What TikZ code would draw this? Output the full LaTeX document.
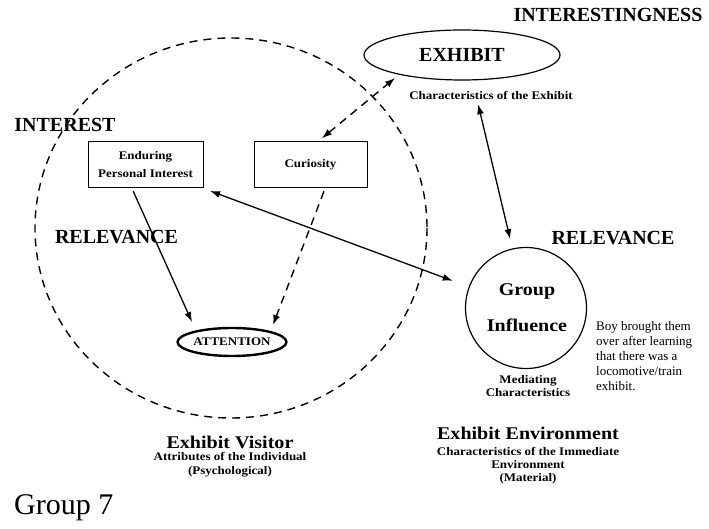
\documentclass[tikz,border=0pt]{standalone}
\usepackage{fontspec}
\setmainfont{Liberation Serif}
\newfontfamily\wideserif[FakeStretch=1.12]{Liberation Serif}
\usetikzlibrary{arrows.meta,shapes.geometric}
\begin{document}
\begin{tikzpicture}[x=1pt,y=-1pt,
  head/.style={font=\bfseries\fontsize{20}{22}\selectfont, inner sep=0pt},
  widehead/.style={font=\wideserif\bfseries\fontsize{17.9}{20}\selectfont, inner sep=0pt},
  small/.style={font=\wideserif\bfseries\fontsize{11.6}{13.5}\selectfont, inner sep=0pt, align=center},
  note/.style={font=\fontsize{13}{15}\selectfont, inner sep=0pt, align=left},
  box/.style={draw, line width=1pt, minimum width=115pt, minimum height=46pt,
    font=\wideserif\bfseries\fontsize{11.6}{18}\selectfont, align=center, inner sep=0pt},
  dashline/.style={dash pattern=on 8pt off 6pt, line width=1.4pt},
  solidline/.style={line width=1.3pt},
  tip/.style={-{Latex[length=10pt,width=7pt]}},
  twotip/.style={{Latex[length=10pt,width=7pt]}-{Latex[length=10pt,width=7pt]}}
]
\useasboundingbox (0,0) rectangle (709,529);

% visitor's sphere
\draw[dashline] (231,228) ellipse [x radius=196, y radius=190];

% nodes
\node[box] (endur) at (145.5,165) {Enduring\\Personal Interest};
\node[box, minimum width=113pt] (curio) at (310.5,165) {Curiosity};
\node[draw, ellipse, line width=2.4pt, minimum width=104pt, minimum height=28pt,
      inner sep=0pt, font=\wideserif\bfseries\fontsize{11.6}{14}\selectfont] (att) at (232,342) {ATTENTION};
\node[draw, ellipse, line width=1.2pt, minimum width=196pt, minimum height=50pt,
      inner sep=0pt, font=\bfseries\fontsize{20}{22}\selectfont] (exh) at (462,55) {EXHIBIT};
\node[draw, circle, line width=1.2pt, minimum size=121pt] (gi) at (526,308) {};
\node[widehead] (giA) at (527,291) {Group};
\node[widehead] (giB) at (527,325) {Influence};

% labels
\node[head] (interestingness) at (608,15) {INTERESTINGNESS};
\node[small] (exlab) at (491,95) {Characteristics of the Exhibit};
\node[head] (relR) at (613,238) {RELEVANCE};
\node[head] (relL) at (116.5,237) {RELEVANCE};
\node[head] (interest) at (65,125) {INTEREST};
\node[small, font=\wideserif\bfseries\fontsize{11.6}{13}\selectfont] (med) at (528,386) {Mediating\\Characteristics};
\node[note, anchor=north west] (boy) at (596,321)
  {Boy brought them\\over after learning\\that there was a\\locomotive/train\\exhibit.};
\node[widehead] (envtitle) at (528,433) {Exhibit Environment};
\node[small, font=\wideserif\bfseries\fontsize{11.6}{13}\selectfont] (envsub) at (528,465.5) {Characteristics of the Immediate\\Environment\\(Material)};
\node[widehead] (vistitle) at (230,442) {Exhibit Visitor};
\node[small] (vissub) at (230,464.5) {Attributes of the Individual\\(Psychological)};
\node[font=\fontsize{30}{32}\selectfont, inner sep=0pt, anchor=west] (grp) at (14,508) {Group 7};

% connectors
\draw[solidline, tip, shorten <=3pt] ([xshift=-13.5pt]endur.south) -- ([shift={(-40,-20)}]att.center);
\draw[dashline, tip, shorten <=3pt] ([xshift=14.5pt]curio.south) -- ([shift={(41,-17)}]att.center);
\draw[dashline, twotip, shorten <=5pt] ([xshift=7.5pt]curio.north) -- ([shift={(-67,23)}]exh.center);
\draw[solidline, twotip, shorten <=7pt, shorten >=17pt] (endur.south east) -- (gi);
\draw[solidline, twotip, shorten <=5pt, shorten >=8pt] ([xshift=-14pt]exlab.south) -- ([xshift=-14pt]gi.north);
\end{tikzpicture}
\end{document}
